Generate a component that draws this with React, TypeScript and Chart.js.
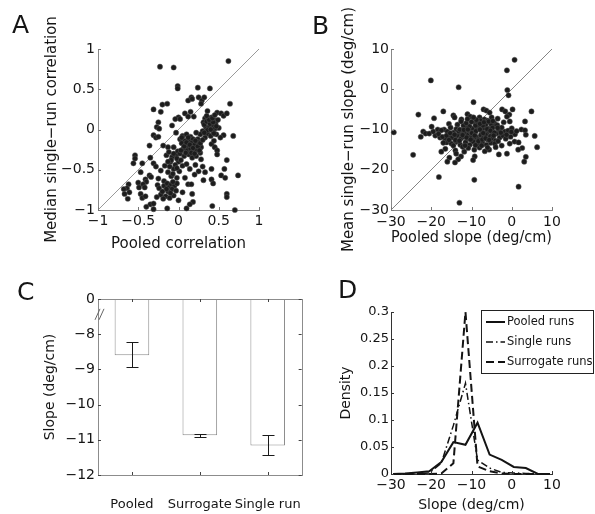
import React, { useEffect, useRef } from 'react';
import { Chart, registerables } from 'chart.js';

Chart.register(...registerables);

const FONT = "'DejaVu Sans', sans-serif";
const TEXT = '#151515';
const MINUS = '\u2212';
Chart.defaults.font.family = FONT;
Chart.defaults.color = TEXT;

// ---------- Panel A: pooled vs median single-run correlation ----------
const pooledCorr = [
  0.62, -0.23, -0.06, -0.01, -0.01, 0.24, 0.39, 0.16, 0.12, 0.17,
  0.25, 0.29, 0.32, 0.28, 0.64, -0.2, -0.31, -0.14, -0.22, 0.08,
  0.15, 0.12, 0.19, 0.36, 0.48, 0.53, 0.56, 0.6, 0.0, -0.04,
  -0.25, -0.27, -0.24, -0.08, 0.02, 0.33, 0.37, 0.4, 0.44, 0.31,
  0.42, 0.46, 0.5, 0.34, 0.38, 0.45, 0.49, 0.41, -0.03, -0.31,
  -0.28, -0.25, 0.68, 0.56, 0.52, 0.3, 0.36, 0.43, 0.47, 0.4,
  0.33, 0.27, 0.05, 0.1, 0.15, 0.22, 0.02, 0.08, 0.13, 0.18,
  0.24, -0.36, -0.19, -0.13, -0.06, 0.04, 0.09, 0.12, 0.16, 0.2,
  0.25, 0.28, 0.06, 0.11, 0.15, 0.19, 0.23, 0.27, 0.41, 0.45,
  0.48, 0.44, -0.15, -0.08, -0.03, -0.01, 0.02, 0.07, 0.13, 0.17,
  0.22, 0.28, -0.35, -0.54, -0.54, -0.56, -0.45, -0.31, -0.28, -0.17,
  -0.22, -0.13, -0.06, 0.0, 0.01, -0.1, -0.04, 0.05, 0.1, 0.14,
  0.21, 0.3, 0.48, 0.6, 0.41, 0.25, 0.33, -0.47, -0.41, -0.4,
  -0.36, -0.34, 0.57, 0.53, 0.58, 0.74, 0.31, 0.41, 0.43, 0.12,
  0.16, 0.2, 0.08, -0.02, -0.09, -0.18, -0.25, -0.5, -0.44, -0.62,
  -0.64, -0.61, -0.63, -0.68, -0.67, -0.49, -0.42, -0.47, -0.45, -0.41,
  -0.26, -0.24, -0.18, -0.14, -0.12, -0.09, -0.05, -0.02, -0.08, -0.03,
  -0.13, -0.22, -0.16, -0.19, -0.11, -0.06, -0.27, -0.35, -0.31, -0.31,
  -0.14, 0.6, 0.6, 0.17, 0.18, 0.14, 0.1, 0.42, 0.7, -0.4,
  0.05, 0.0, 0.32, 0.35, 0.39, 0.43, 0.47, 0.36, 0.4, 0.44,
  0.32, 0.38, 0.42, 0.35, 0.45, 0.04, 0.07, 0.1, 0.14, 0.18,
  0.21, 0.24, 0.27, 0.03, 0.09, 0.16, 0.2, 0.12, 0.26, 0.3,
  -0.12, -0.09, -0.06, -0.02, -0.11, -0.07, -0.02, -0.13, 0.03, -0.15,
  -0.1, -0.2, -0.07,
];
const medianCorr = [
  0.85, 0.78, 0.77, 0.54, 0.51, 0.52, 0.51, 0.4, 0.36, 0.38,
  0.4, 0.36, 0.4, 0.32, 0.32, 0.31, 0.25, 0.32, 0.22, 0.2,
  0.22, 0.16, 0.16, 0.23, 0.21, 0.2, 0.17, 0.2, 0.15, 0.13,
  0.09, 0.03, 0.01, 0.05, 0.13, 0.14, 0.13, 0.1, 0.12, 0.09,
  0.05, 0.08, 0.02, 0.03, 0.02, 0.01, 0.12, 0.15, -0.04, -0.07,
  -0.1, -0.09, -0.08, -0.07, -0.1, -0.02, -0.05, -0.03, -0.06, -0.08,
  -0.1, -0.06, -0.08, -0.06, -0.09, -0.04, -0.12, -0.14, -0.13, -0.12,
  -0.12, -0.2, -0.2, -0.22, -0.22, -0.17, -0.19, -0.21, -0.17, -0.19,
  -0.16, -0.22, -0.24, -0.26, -0.24, -0.27, -0.25, -0.29, -0.18, -0.22,
  -0.26, -0.14, -0.32, -0.34, -0.32, -0.27, -0.3, -0.33, -0.31, -0.35,
  -0.33, -0.37, -0.35, -0.32, -0.36, -0.42, -0.42, -0.42, -0.46, -0.45,
  -0.51, -0.53, -0.49, -0.4, -0.52, -0.4, -0.44, -0.45, -0.43, -0.49,
  -0.44, -0.46, -0.31, -0.38, -0.49, -0.52, -0.53, -0.53, -0.62, -0.65,
  -0.57, -0.59, -0.49, -0.57, -0.6, -0.57, -0.63, -0.62, -0.67, -0.68,
  -0.68, -0.56, -0.6, -0.6, -0.58, -0.64, -0.61, -0.66, -0.68, -0.68,
  -0.73, -0.78, -0.86, -0.74, -0.8, -0.72, -0.72, -0.8, -0.85, -0.83,
  -0.69, -0.73, -0.7, -0.67, -0.72, -0.68, -0.7, -0.67, -0.74, -0.76,
  -0.77, -0.81, -0.83, -0.86, -0.85, -0.82, -0.84, -0.93, -0.92, -0.99,
  -0.98, -0.8, -0.84, -0.8, -0.9, -0.93, -0.98, -0.95, -1.0, -0.96,
  -0.78, -0.88, 0.06, 0.1, 0.07, 0.09, 0.04, -0.01, 0.0, -0.05,
  -0.04, 0.12, 0.14, 0.17, 0.18, -0.1, -0.21, -0.16, -0.19, -0.23,
  -0.14, -0.21, -0.17, -0.26, -0.29, -0.29, -0.3, -0.1, -0.26, -0.13,
  -0.28, -0.38, -0.3, -0.36, -0.46, -0.55, -0.48, -0.4, -0.38, -0.74,
  -0.79, -0.77, -0.65,
];

// ---------- Panel B: pooled vs mean single-run slope ----------
const pooledSlope = [
  0.7, -1.2, -20.1, -13.2, -1.1, -0.8, -23.2, -29.3, -24.5, -18.1,
  -9.3, 1.7, -13.0, 4.9, -9.5, -7.0, -6.3, -5.5, -2.4, -1.6,
  0.2, -0.6, -1.2, -17.0, -14.5, -14.2, -19.3, -11.0, -10.3, -12.5,
  -8.0, -6.8, -5.0, -3.5, -2.0, -0.5, 3.3, -4.3, -7.5, -9.0,
  -15.6, -13.5, -16.8, -19.9, -22.0, -21.4, -22.6, -18.4, -17.5, -16.0,
  -15.2, -14.5, -13.8, -13.0, -12.3, -11.5, -11.0, -10.4, -9.8, -9.2,
  -8.6, -8.0, -7.4, -6.8, -6.2, -5.7, -5.0, -4.4, -3.8, -3.2,
  -2.5, -1.7, -0.9, 0.0, 0.8, 2.4, 3.3, 3.5, 5.7, -15.5,
  -14.8, -13.6, -12.6, -11.8, -10.8, -10.0, -9.5, -8.8, -8.2, -7.7,
  -7.0, -6.5, -6.0, -5.3, -4.7, -4.0, -3.0, -2.2, -1.5, -0.3,
  -16.5, -17.8, -20.5, -19.0, -12.0, -9.0, -6.5, -10.5, -7.2, -16.2,
  -15.0, -13.8, -12.8, -11.5, -10.4, -9.6, -8.5, -7.3, -6.3, -5.2,
  -4.2, 0.7, 1.7, 2.6, 1.6, 3.5, 3.1, 6.3, -1.2, -3.2,
  -5.6, -6.7, -9.3, -9.2, -9.6, -12.6, -13.3, -14.1, -15.5, -16.0,
  -16.5, -14.0, -11.8, -10.8, -8.0, -12.2, -13.8, -17.5, -6.0, -2.5,
  -0.5, -7.8, -6.0, -5.2, -8.6, -11.8, -13.2, -10.0, -14.0, -4.8,
  -12.6, -11.3, -10.0, -8.8, -7.9, -6.9, -5.7, -4.7, -3.6, -12.9,
  -11.9, -10.9, -9.9, -8.9, -7.9, -7.1, -6.1, -5.3, -4.3, -3.5,
  -12.2, -11.2, -10.2, -9.2, -8.3, -7.3, -6.5, -5.6, -4.5, -3.4,
  -18.2, -17.2, -16.2, -15.3, -14.2, -17.0, -15.6, -14.5, -13.0, -11.6,
  -2.7, -1.3, -0.1, 1.2, -4.0, -9.0, -7.5, -19.5, -11.0, -9.5,
];
const meanSlope = [
  7.3, 4.7, 2.2, 0.5, -0.2, -1.5, -6.3, -10.7, -16.3, -21.8,
  -22.5, -24.2, -28.2, -5.5, -3.2, -5.0, -5.3, -5.8, -5.0, -5.5,
  -5.0, -6.3, -6.8, -5.5, -6.5, -7.0, -7.2, -6.2, -6.8, -7.5,
  -7.0, -7.5, -7.0, -7.3, -8.2, -8.0, -8.0, -8.5, -8.3, -8.5,
  -8.6, -8.8, -10.0, -9.3, -10.5, -11.0, -11.8, -10.0, -10.2, -10.5,
  -9.5, -10.8, -9.9, -11.0, -10.2, -9.5, -11.2, -10.4, -9.8, -11.0,
  -10.0, -9.3, -10.6, -9.6, -10.8, -9.8, -10.5, -9.2, -11.0, -10.0,
  -9.5, -10.5, -10.3, -9.7, -11.2, -10.0, -10.2, -11.3, -11.6, -11.8,
  -12.0, -11.5, -12.2, -11.8, -12.3, -11.7, -12.5, -11.9, -12.6, -11.4,
  -12.0, -11.3, -12.5, -11.7, -12.2, -12.8, -12.0, -11.5, -12.3, -11.8,
  -12.5, -12.0, -11.0, -11.5, -9.0, -9.0, -8.8, -9.2, -9.0, -13.2,
  -13.5, -13.0, -13.8, -13.2, -13.8, -13.0, -13.6, -13.2, -13.8, -13.3,
  -13.5, -13.0, -13.2, -14.6, -15.0, -16.8, -18.0, -14.4, -16.0, -16.2,
  -15.0, -15.4, -15.0, -16.7, -17.6, -16.7, -17.4, -18.2, -17.0, -18.0,
  -14.8, -15.2, -15.5, -14.6, -14.5, -14.3, -16.0, -15.5, -14.5, -14.0,
  -13.5, -7.8, -7.8, -8.6, -8.0, -10.6, -10.4, -10.8, -12.6, -9.6,
  -8.0, -8.4, -8.1, -7.6, -8.6, -8.2, -8.0, -7.9, -8.9, -10.0,
  -10.1, -10.0, -10.9, -10.4, -10.0, -10.9, -9.9, -10.3, -10.8, -9.6,
  -11.4, -12.0, -12.5, -11.5, -12.9, -12.5, -12.2, -12.6, -11.5, -12.9,
  -11.1, -11.8, -11.5, -10.9, -11.3, -13.3, -12.6, -14.0, -12.8, -14.0,
  -10.8, -11.3, -10.6, -10.4, -14.4, -13.9, -14.0, -10.5, -7.4, -7.0,
];

// ---------- Panel C: mean slopes with error bars (broken axis: top shows 0) ----------
const barLabels = ['Pooled', 'Surrogate', 'Single run'];
const barValues = [-8.6, -10.87, -11.16];
const errHigh = [-8.23, -10.83, -10.87];
const errLow = [-8.94, -10.93, -11.44];
const cAxisTop = -7; // axis is broken; this position is labelled 0
const cAxisBottom = -12;

// ---------- Panel D: slope densities ----------
const slopeBins = [-29.5, -26.5, -23.5, -20.5, -17.5, -14.5, -11.5, -8.5, -5.5, -2.5, 0.5, 3.5, 6.5, 9.5];
const pooledDensity = [0, 0.001, 0.003, 0.005, 0.022, 0.059, 0.054, 0.095, 0.036, 0.026, 0.013, 0.011, 0, 0];
const singleDensity = [0, 0, 0, 0.002, 0.02, 0.09, 0.168, 0.026, 0.011, 0.003, 0.002, 0.001, 0, 0];
const surrogateDensity = [0, 0, 0, 0, 0.001, 0.02, 0.3, 0.014, 0.005, 0.001, 0, 0, 0, 0];
const densityNames = ['Pooled runs', 'Single runs', 'Surrogate runs'];

function fmtNum(v: number): string {
  const r = Math.round(v * 1000) / 1000;
  return r < 0 ? MINUS + String(-r) : String(r);
}

// Draws inward tick marks, an optional box and the panel letter
const decor = {
  id: 'decor',
  afterDatasetsDraw(chart: any, _args: any, opts: any) {
    const ctx = chart.ctx;
    const a = chart.chartArea;
    ctx.save();
    if (opts.box) {
      ctx.strokeStyle = opts.box;
      ctx.lineWidth = 1;
      ctx.strokeRect(Math.round(a.left) + 0.5, Math.round(a.top) + 0.5, Math.round(a.right - a.left), Math.round(a.bottom - a.top));
    }
    if (opts.ticks) {
      ctx.strokeStyle = opts.tickColor;
      ctx.lineWidth = 1;
      ctx.beginPath();
      const L = opts.tickLen;
      for (const side of opts.ticks) {
        const horiz = side === 'top' || side === 'bottom';
        const sc = horiz ? chart.scales.x : chart.scales.y;
        sc.ticks.forEach((_t: any, i: number) => {
          const p = Math.round(sc.getPixelForTick(i)) + 0.5;
          if (side === 'bottom') { ctx.moveTo(p, a.bottom); ctx.lineTo(p, a.bottom - L); }
          if (side === 'top') { ctx.moveTo(p, a.top); ctx.lineTo(p, a.top + L); }
          if (side === 'left') { ctx.moveTo(a.left, p); ctx.lineTo(a.left + L, p); }
          if (side === 'right') { ctx.moveTo(a.right, p); ctx.lineTo(a.right - L, p); }
        });
      }
      ctx.stroke();
    }
    if (opts.letter) {
      ctx.fillStyle = TEXT;
      ctx.font = `25px ${FONT}`;
      ctx.textAlign = 'left';
      ctx.textBaseline = 'alphabetic';
      ctx.fillText(opts.letter[0], opts.letter[1], opts.letter[2]);
    }
    ctx.restore();
  },
};

const cExtras = {
  id: 'cExtras',
  afterDatasetsDraw(chart: any) {
    const ctx = chart.ctx;
    const ys = chart.scales.y;
    const meta = chart.getDatasetMeta(0);
    const a = chart.chartArea;
    ctx.save();
    ctx.strokeStyle = '#1a1a1a';
    ctx.lineWidth = 1;
    ctx.beginPath();
    meta.data.forEach((bar: any, i: number) => {
      const x = Math.round(bar.x) + 0.5;
      const y1 = Math.round(ys.getPixelForValue(errHigh[i])) + 0.5;
      const y2 = Math.round(ys.getPixelForValue(errLow[i])) + 0.5;
      ctx.moveTo(x, y1); ctx.lineTo(x, y2);
      ctx.moveTo(x - 6, y1); ctx.lineTo(x + 6, y1);
      ctx.moveTo(x - 6, y2); ctx.lineTo(x + 6, y2);
    });
    ctx.stroke();
    // axis break marks
    const yb = ys.getPixelForValue(cAxisTop - 0.45);
    ctx.strokeStyle = '#666';
    ctx.beginPath();
    ctx.moveTo(a.left - 3, yb + 5); ctx.lineTo(a.left + 2, yb - 6);
    ctx.moveTo(a.left + 1, yb + 5); ctx.lineTo(a.left + 6, yb - 6);
    ctx.stroke();
    ctx.restore();
  },
};

const dashes = [[], [7, 3, 1.5, 3], [8, 4]];
const widths = [2, 1.5, 2];

const legendD = {
  id: 'legendD',
  afterDraw(chart: any) {
    const ctx = chart.ctx;
    ctx.save();
    ctx.fillStyle = '#ffffff';
    ctx.fillRect(156.5, 53.5, 112, 63);
    ctx.strokeStyle = '#222';
    ctx.lineWidth = 1;
    ctx.strokeRect(156.5, 53.5, 112, 63);
    chart.data.datasets.forEach((ds: any, i: number) => {
      const y = 65 + i * 20;
      ctx.strokeStyle = '#111';
      ctx.setLineDash(dashes[i]);
      ctx.lineWidth = widths[i];
      ctx.beginPath();
      ctx.moveTo(161, y);
      ctx.lineTo(180, y);
      ctx.stroke();
      ctx.setLineDash([]);
      ctx.font = `11.5px ${FONT}`;
      ctx.fillStyle = TEXT;
      ctx.textAlign = 'left';
      ctx.textBaseline = 'middle';
      ctx.fillText(ds.label, 182, y);
    });
    ctx.restore();
  },
};

const noGrid = { display: false, drawTicks: false };

function buildA(canvas: HTMLCanvasElement) {
  return new Chart(canvas, {
    type: 'scatter',
    data: {
      datasets: [
        {
          data: pooledCorr.map((x, i) => ({ x, y: medianCorr[i] })),
          pointRadius: 2.6, backgroundColor: '#1c1c1c', borderColor: '#555', borderWidth: 0.5,
          clip: false, order: 1,
        } as any,
        {
          data: [{ x: -1, y: -1 }, { x: 1, y: 1 }],
          showLine: true, pointRadius: 0, borderColor: '#9a9a9a', borderWidth: 1, order: 2,
        } as any,
      ],
    },
    options: {
      animation: false, responsive: false, events: [],
      layout: { padding: { left: 0, top: 49, right: 38, bottom: 0 } },
      plugins: {
        legend: { display: false }, tooltip: { enabled: false },
        decor: { ticks: ['bottom', 'left'], tickColor: '#777', tickLen: 3, letter: ['A', 12, 33] },
      } as any,
      scales: {
        x: {
          type: 'linear', min: -1, max: 1,
          ticks: { stepSize: 0.5, callback: (v: any) => fmtNum(v), padding: 3, font: { size: 14 }, color: TEXT, maxRotation: 0, autoSkip: false },
          grid: noGrid, border: { display: true, color: '#888' },
          title: { display: true, text: 'Pooled correlation', font: { size: 15 }, color: TEXT, padding: { top: 0, bottom: 4 } },
          afterFit: (s: any) => { s.height = 47; },
        },
        y: {
          type: 'linear', min: -1, max: 1,
          ticks: { stepSize: 0.5, callback: (v: any) => fmtNum(v), padding: 3, font: { size: 14 }, color: TEXT, autoSkip: false },
          grid: noGrid, border: { display: true, color: '#888' },
          title: { display: true, text: 'Median single' + MINUS + 'run correlation', font: { size: 15 }, color: TEXT, padding: { top: 43, bottom: 0 } },
          afterFit: (s: any) => { s.width = 98; },
        },
      },
    } as any,
    plugins: [decor],
  });
}

function buildB(canvas: HTMLCanvasElement) {
  return new Chart(canvas, {
    type: 'scatter',
    data: {
      datasets: [
        {
          data: pooledSlope.map((x, i) => ({ x, y: meanSlope[i] })),
          pointRadius: 2.6, backgroundColor: '#1c1c1c', borderColor: '#555', borderWidth: 0.5,
          clip: false, order: 1,
        } as any,
        {
          data: [{ x: -30, y: -30 }, { x: 10, y: 10 }],
          showLine: true, pointRadius: 0, borderColor: '#666', borderWidth: 0.8, order: 2,
        } as any,
      ],
    },
    options: {
      animation: false, responsive: false, events: [],
      layout: { padding: { left: 0, top: 49, right: 43, bottom: 0 } },
      plugins: {
        legend: { display: false }, tooltip: { enabled: false },
        decor: { ticks: ['bottom', 'left'], tickColor: '#777', tickLen: 3, letter: ['B', 15, 34] },
      } as any,
      scales: {
        x: {
          type: 'linear', min: -30, max: 10,
          ticks: { stepSize: 10, callback: (v: any) => fmtNum(v), padding: 4, font: { size: 14 }, color: TEXT, maxRotation: 0, autoSkip: false },
          grid: noGrid, border: { display: true, color: '#888' },
          title: { display: true, text: 'Pooled slope (deg/cm)', font: { size: 15 }, color: TEXT, padding: { top: 0, bottom: 10 } },
          afterFit: (s: any) => { s.height = 47; },
        },
        y: {
          type: 'linear', min: -30, max: 10,
          ticks: { stepSize: 10, callback: (v: any) => fmtNum(v), padding: 2, font: { size: 14 }, color: TEXT, autoSkip: false },
          grid: noGrid, border: { display: true, color: '#888' },
          title: { display: true, text: 'Mean single' + MINUS + 'run slope (deg/cm)', font: { size: 15 }, color: TEXT, padding: { top: 43, bottom: 0 } },
          afterFit: (s: any) => { s.width = 94; },
        },
      },
    } as any,
    plugins: [decor],
  });
}

function buildC(canvas: HTMLCanvasElement) {
  return new Chart(canvas, {
    type: 'bar',
    data: {
      labels: barLabels,
      datasets: [
        {
          data: barValues.map((v) => [cAxisTop, v]),
          backgroundColor: '#ffffff', borderColor: '#8c8c8c', borderWidth: 1, borderSkipped: false,
          barPercentage: 0.51, categoryPercentage: 1,
        } as any,
      ],
    },
    options: {
      animation: false, responsive: false, events: [],
      layout: { padding: { left: 0, top: 42, right: 14, bottom: 0 } },
      plugins: {
        legend: { display: false }, tooltip: { enabled: false },
        decor: { box: '#8c8c8c', ticks: ['bottom', 'top', 'left', 'right'], tickColor: '#444', tickLen: 3, letter: ['C', 17, 43] },
      } as any,
      scales: {
        x: {
          ticks: { padding: 22, font: { size: 13 }, color: TEXT, maxRotation: 0, autoSkip: false },
          grid: noGrid, border: { display: false },
          afterFit: (s: any) => { s.height = 39; },
        },
        y: {
          type: 'linear', min: cAxisBottom, max: cAxisTop,
          ticks: { stepSize: 1, callback: (v: any) => (v === cAxisTop ? '0' : fmtNum(v)), padding: 3, font: { size: 14 }, color: TEXT, autoSkip: false },
          grid: noGrid, border: { display: false },
          title: { display: true, text: 'Slope (deg/cm)', font: { size: 14 }, color: TEXT, padding: { top: 42, bottom: 0 } },
          afterFit: (s: any) => { s.width = 98; },
        },
      },
    } as any,
    plugins: [decor, cExtras],
  });
}

function buildD(canvas: HTMLCanvasElement) {
  const series = [pooledDensity, singleDensity, surrogateDensity];
  return new Chart(canvas, {
    type: 'scatter',
    data: {
      datasets: series.map((vals, i) => ({
        label: densityNames[i],
        data: slopeBins.map((x, j) => ({ x, y: vals[j] })),
        showLine: true, pointRadius: 0, borderColor: '#141414', borderWidth: widths[i],
        borderDash: dashes[i], tension: 0, clip: false,
      })) as any,
    },
    options: {
      animation: false, responsive: false, events: [],
      layout: { padding: { left: 0, top: 55, right: 43, bottom: 0 } },
      plugins: {
        legend: { display: false }, tooltip: { enabled: false },
        decor: { ticks: ['bottom', 'left'], tickColor: '#333', tickLen: 3, letter: ['D', 13, 41] },
      } as any,
      scales: {
        x: {
          type: 'linear', min: -30, max: 10,
          ticks: { stepSize: 10, callback: (v: any) => fmtNum(v), padding: 3, font: { size: 14 }, color: TEXT, maxRotation: 0, autoSkip: false },
          grid: noGrid, border: { display: true, color: '#333' },
          title: { display: true, text: 'Slope (deg/cm)', font: { size: 14 }, color: TEXT, padding: { top: 0, bottom: 0 } },
          afterFit: (s: any) => { s.height = 40; },
        },
        y: {
          type: 'linear', min: 0, max: 0.3,
          ticks: { stepSize: 0.05, callback: (v: any) => fmtNum(v), padding: 2, font: { size: 13 }, color: TEXT, autoSkip: false },
          grid: noGrid, border: { display: true, color: '#333' },
          title: { display: true, text: 'Density', font: { size: 14 }, color: TEXT, padding: { top: 13, bottom: 0 } },
          afterFit: (s: any) => { s.width = 66; },
        },
      },
    } as any,
    plugins: [decor, legendD],
  });
}

function ChartCanvas(props: { left: number; top: number; width: number; height: number; build: (c: HTMLCanvasElement) => Chart }) {
  const ref = useRef<HTMLCanvasElement>(null);
  useEffect(() => {
    const chart = props.build(ref.current as HTMLCanvasElement);
    return () => chart.destroy();
  }, []);
  return (
    <canvas
      ref={ref}
      width={props.width}
      height={props.height}
      style={{ position: 'absolute', left: props.left, top: props.top, width: props.width, height: props.height }}
    />
  );
}

export default function App() {
  return (
    <div style={{ position: 'absolute', left: 0, top: 0, width: 595, height: 514, background: '#ffffff', overflow: 'hidden' }}>
      <ChartCanvas left={0} top={0} width={297} height={257} build={buildA} />
      <ChartCanvas left={297} top={0} width={298} height={257} build={buildB} />
      <ChartCanvas left={0} top={257} width={325} height={257} build={buildC} />
      <ChartCanvas left={325} top={257} width={270} height={257} build={buildD} />
    </div>
  );
}
